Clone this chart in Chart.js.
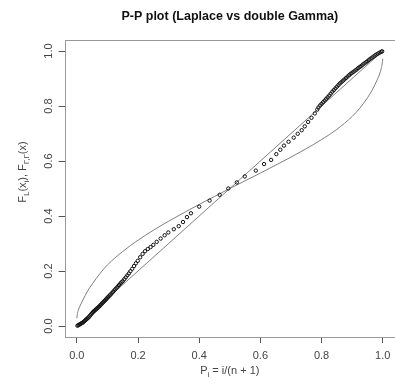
<!DOCTYPE html>
<html>
<head>
<meta charset="utf-8">
<script src="https://cdn.jsdelivr.net/npm/chart.js@4.4.1/dist/chart.umd.min.js"></script>
<style>
  html, body { margin: 0; padding: 0; background: #fff; overflow: hidden; }
  #wrap { width: 400px; height: 385px; }
</style>
</head>
<body>
<div id="wrap"><canvas id="pp" width="400" height="385"></canvas></div>
<script>
// P-P plot: sample points, the identity line and the theoretical curve

// dense lower part of the sample
const lowX = [0.002,0.005,0.008,0.011,0.014,0.017,0.020,0.023,0.026,0.029,0.032,0.035,0.038,0.041,0.044,0.047,0.050,0.053,0.056,0.059,
  0.062,0.065,0.068,0.071,0.074,0.077,0.080,0.083,0.086,0.089,0.092,0.095,0.098,0.101,0.104,0.107,0.110,
  0.114,0.118,0.122,0.126,0.130,0.134,0.138,0.142,0.146,0.150,0.155,0.160,0.165,0.170,0.175,0.181,0.187,0.193,0.199]
const lowY = [0.001,0.003,0.005,0.007,0.009,0.011,0.013,0.016,0.019,0.022,0.025,0.028,0.031,0.035,0.039,0.043,0.047,0.051,0.054,0.057,
  0.060,0.063,0.066,0.069,0.072,0.076,0.079,0.083,0.086,0.090,0.093,0.097,0.100,0.104,0.107,0.111,0.114,
  0.119,0.124,0.129,0.134,0.139,0.144,0.149,0.154,0.159,0.163,0.170,0.177,0.184,0.191,0.199,0.208,0.218,0.228,0.237]

// sparse middle part
const midX = [0.207,0.215,0.223,0.232,0.241,0.250,0.261,0.274,0.287,0.299,0.317,0.333,0.347,0.360,0.373,0.400,0.434,0.467,
  0.495,0.523,0.549,0.585,0.612,0.635,0.652,0.665,0.677,0.692,0.709,0.722,0.735,0.745,0.756,0.767,0.778,0.786]
const midY = [0.250,0.262,0.272,0.280,0.287,0.295,0.306,0.318,0.330,0.340,0.352,0.363,0.378,0.396,0.410,0.434,0.456,0.477,
  0.500,0.522,0.544,0.565,0.589,0.604,0.625,0.641,0.656,0.670,0.685,0.699,0.712,0.726,0.742,0.757,0.773,0.787]

// dense upper part
const highX = [0.790,0.795,0.800,0.805,0.810,0.815,0.820,0.825,0.830,0.835,0.840,0.845,0.850,0.855,0.860,0.865,0.870,0.875,0.880,0.885,
  0.890,0.895,0.900,0.905,0.910,0.915,0.920,0.925,0.930,0.935,0.940,0.945,0.950,0.955,0.960,0.965,0.970,0.975,0.980,0.985,
  0.990,0.995,0.998]
const highY = [0.795,0.802,0.808,0.814,0.820,0.826,0.832,0.838,0.845,0.852,0.858,0.864,0.870,0.876,0.882,0.887,0.892,0.897,0.902,0.907,
  0.912,0.917,0.921,0.925,0.929,0.933,0.938,0.942,0.946,0.951,0.955,0.959,0.963,0.968,0.972,0.976,0.980,0.984,0.988,0.991,
  0.994,0.997,0.999]

// theoretical curve (double Gamma)
const curveX = [0,0.002,0.005,0.01,0.02,0.035,0.05,0.075,0.1,0.15,0.2,0.25,0.3,0.35,0.4,0.45,0.5,
  0.55,0.6,0.65,0.7,0.75,0.8,0.85,0.9,0.925,0.95,0.965,0.98,0.99,0.995,0.998,1]
const curveY = [0.028,0.045,0.058,0.072,0.095,0.127,0.152,0.19,0.222,0.271,0.312,0.348,0.381,0.412,0.442,0.471,0.5,
  0.528,0.556,0.585,0.614,0.645,0.678,0.715,0.762,0.792,0.83,0.857,0.891,0.917,0.936,0.953,0.972]

// identity line
const refX = [0, 1]
const refY = [0, 1]

const xTicks = [0, 0.2, 0.4, 0.6, 0.8, 1.0]
const yTicks = [0, 0.2, 0.4, 0.6, 0.8, 1.0]
const xTickLabels = ["0.0", "0.2", "0.4", "0.6", "0.8", "1.0"]
const yTickLabels = ["0.0", "0.2", "0.4", "0.6", "0.8", "1.0"]

const TITLE = "P-P plot (Laplace vs double Gamma)"
const FONT = "'Liberation Sans', Arial, sans-serif"

const toPoints = (xs, ys) => xs.map((x, i) => ({ x: x, y: ys[i] }))
const samplePts = toPoints(lowX, lowY).concat(toPoints(midX, midY), toPoints(highX, highY))

// draw text made of pieces, some of them subscripts, centred on (cx, baseline)
function drawRich(ctx, parts, cx, baseline, size) {
  const subSize = size * 0.72
  let total = 0
  parts.forEach(([t, sub]) => {
    ctx.font = `${sub ? subSize : size}px ${FONT}`
    total += ctx.measureText(t).width
  })
  let x = cx - total / 2
  ctx.textAlign = "left"
  ctx.textBaseline = "alphabetic"
  parts.forEach(([t, sub]) => {
    ctx.font = `${sub ? subSize : size}px ${FONT}`
    ctx.fillText(t, x, baseline + (sub ? size * 0.28 : 0))
    x += ctx.measureText(t).width
  })
}

const decorations = {
  id: "decorations",
  afterDraw(chart) {
    const { ctx, chartArea: a, scales } = chart
    ctx.save()

    // box
    ctx.strokeStyle = "#999"
    ctx.lineWidth = 1
    ctx.strokeRect(Math.round(a.left) + 0.5, Math.round(a.top) + 0.5,
      Math.round(a.right - a.left), Math.round(a.bottom - a.top))

    // title
    ctx.fillStyle = "#111"
    ctx.font = `bold 12.5px ${FONT}`
    ctx.textAlign = "center"
    ctx.textBaseline = "alphabetic"
    ctx.fillText(TITLE, (a.left + a.right) / 2, 20)

    // tick labels
    ctx.fillStyle = "#444"
    ctx.font = `11px ${FONT}`
    ctx.textBaseline = "middle"
    xTicks.forEach((v, i) => {
      ctx.fillText(xTickLabels[i], scales.x.getPixelForValue(v), 356)
    })
    yTicks.forEach((v, i) => {
      ctx.save()
      ctx.translate(49, scales.y.getPixelForValue(v))
      ctx.rotate(-Math.PI / 2)
      ctx.textAlign = "center"
      ctx.fillText(yTickLabels[i], 0, 0)
      ctx.restore()
    })

    // axis titles
    drawRich(ctx, [["P", false], ["i", true], [" = i/(n + 1)", false]], (a.left + a.right) / 2, 374, 11)
    ctx.save()
    ctx.translate(26, 172)
    ctx.rotate(-Math.PI / 2)
    drawRich(ctx, [["F", false], ["L", true], ["(x", false], ["i", true], ["), F", false], ["\u0393,\u0393", true], ["(x)", false]], 0, 0, 11)
    ctx.restore()

    ctx.restore()
  }
}

const tickGrid = { display: true, drawOnChartArea: false, drawTicks: true, tickLength: 6, color: "#555", lineWidth: 1 }

new Chart(document.getElementById("pp"), {
  type: "scatter",
  data: {
    datasets: [
      {
        label: "sample",
        data: samplePts,
        showLine: false,
        pointRadius: 1.7,
        pointBorderWidth: 1,
        pointBorderColor: "#111",
        pointBackgroundColor: "rgba(0,0,0,0)"
      },
      {
        label: "identity",
        data: toPoints(refX, refY),
        showLine: true,
        pointRadius: 0,
        borderColor: "#7f7f7f",
        borderWidth: 1
      },
      {
        label: "double Gamma",
        data: toPoints(curveX, curveY),
        showLine: true,
        pointRadius: 0,
        borderColor: "#7f7f7f",
        borderWidth: 1,
        cubicInterpolationMode: "monotone"
      }
    ]
  },
  options: {
    responsive: false,
    animation: false,
    devicePixelRatio: 1,
    events: [],
    layout: { padding: { top: 40, right: 1.6, left: 0, bottom: 0 } },
    scales: {
      x: {
        type: "linear",
        min: -0.04,
        max: 1.04,
        afterBuildTicks: (s) => { s.ticks = xTicks.map((v) => ({ value: v })) },
        afterFit: (s) => { s.height = 48 },
        ticks: { display: false },
        grid: tickGrid,
        border: { display: false }
      },
      y: {
        type: "linear",
        min: -0.04,
        max: 1.04,
        afterBuildTicks: (s) => { s.ticks = yTicks.map((v) => ({ value: v })) },
        afterFit: (s) => { s.width = 64.6 },
        ticks: { display: false },
        grid: tickGrid,
        border: { display: false }
      }
    },
    plugins: {
      legend: { display: false },
      tooltip: { enabled: false },
      title: { display: false }
    }
  },
  plugins: [decorations]
})
</script>
</body>
</html>
